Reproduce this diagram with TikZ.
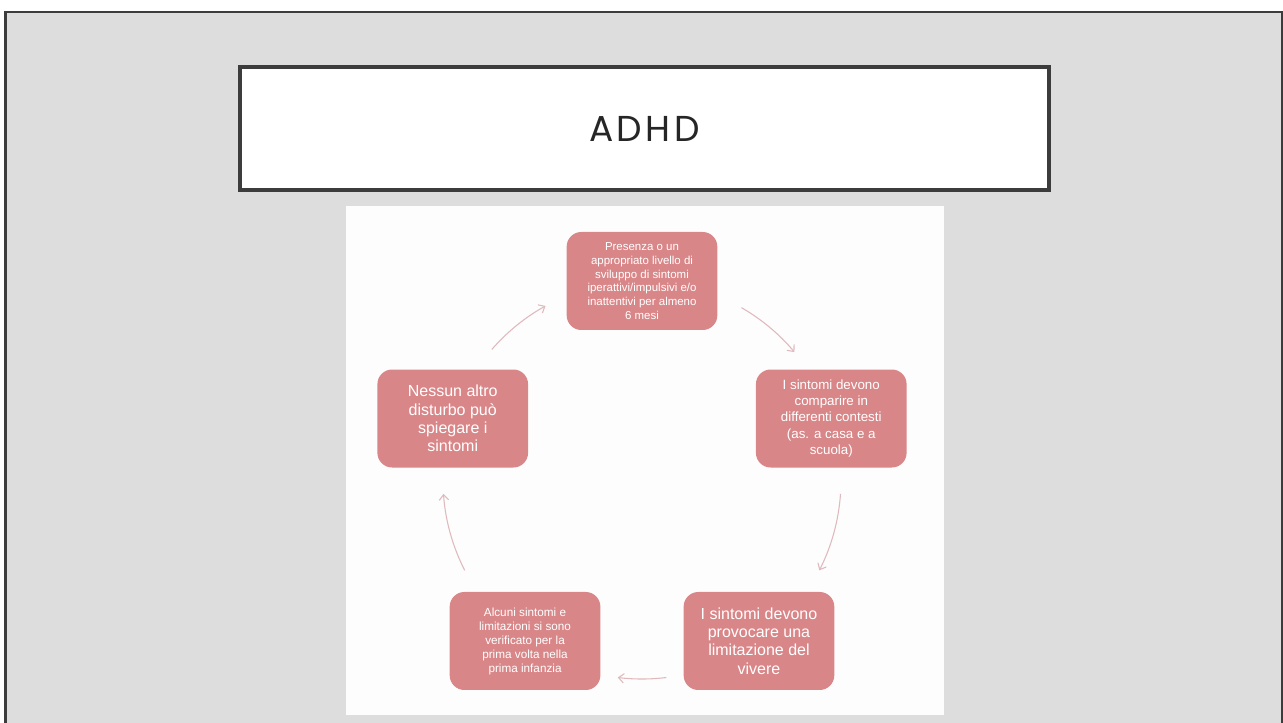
\documentclass[tikz,border=0pt]{standalone}
\usepackage{fontspec}
\setmainfont{Liberation Sans}
\newfontfamily\titlefont[LetterSpace=10]{Poppins}
\usetikzlibrary{calc,arrows.meta,positioning}
\definecolor{slidegray}{HTML}{DDDDDD}
\definecolor{framegray}{HTML}{3C3C3C}
\definecolor{panelwhite}{HTML}{FDFDFD}
\definecolor{boxpink}{HTML}{D98688}
\definecolor{arrowpink}{HTML}{E0B9BD}

\begin{document}
\begin{tikzpicture}[x=0.75pt, y=0.75pt, >={Straight Barb[length=4pt,width=7pt]}]
% styles for the pink blocks and the curved arrows
 \tikzset{
block/.style = {rectangle, rounded corners=11pt, fill=boxpink, text=white, minimum height=73.5pt, minimum width=113pt, inner sep=2pt, align=center},
link/.style = {draw=arrowpink, line width=0.8pt, ->},
}
 \useasboundingbox (0,0) rectangle (1283,722);

 % slide background and frame
 \fill[white] (0,0) rectangle (1283,722);
 \draw[framegray, line width=2pt, fill=slidegray] (5.5,-10) rectangle (1282,710);

 % title box
 \node [draw=framegray, fill=white, line width=2.6pt, minimum width=607pt, minimum height=92pt, inner sep=0pt] (title) at (644.5,593.5) {\titlefont\fontsize{27}{30}\selectfont\color{black!85}ADHD};

 % white panel behind the cycle
 \fill[panelwhite] (346,7) rectangle (944,516);

 % centre of the cycle
 \coordinate (c) at (642,242);

 % the five criteria
 \node [block, font=\fontsize{8.6}{10.3}\selectfont] (presenza) at ($(c)+(90:199)$) {Presenza o un\\appropriato livello di\\sviluppo di sintomi\\iperattivi/impulsivi e/o\\inattentivi per almeno\\6 mesi};
 \node [block, font=\fontsize{10}{12.2}\selectfont] (contesti) at ($(c)+(18:199)$) {I sintomi devono\\comparire in\\differenti contesti\\(as. a casa e a\\scuola)};
 \node [block, font=\fontsize{12}{13.7}\selectfont] (limitazione) at ($(c)+(-54:199)$) {I sintomi devono\\provocare una\\limitazione del\\vivere};
 \node [block, font=\fontsize{8.8}{10.5}\selectfont] (infanzia) at ($(c)+(-126:199)$) {Alcuni sintomi e\\limitazioni si sono\\verificato per la\\prima volta nella\\prima infanzia};
 \node [block, font=\fontsize{12}{13.7}\selectfont] (disturbo) at ($(c)+(162:199)$) {Nessun altro\\disturbo può\\spiegare i\\sintomi};

 % arrows round the cycle
 \draw [link] ($(c)+(60:199)$) arc[start angle=60, end angle=40, radius=199];
 \draw [link] ($(c)+(-4:199)$) arc[start angle=-4, end angle=-27, radius=199];
 \draw [link] ($(c)+(-83:199)$) arc[start angle=-83, end angle=-97, radius=199];
 \draw [link] ($(c)+(207:199)$) arc[start angle=207, end angle=184, radius=199];
 \draw [link] ($(c)+(139:199)$) arc[start angle=139, end angle=119, radius=199];

\end{tikzpicture}
\end{document}
